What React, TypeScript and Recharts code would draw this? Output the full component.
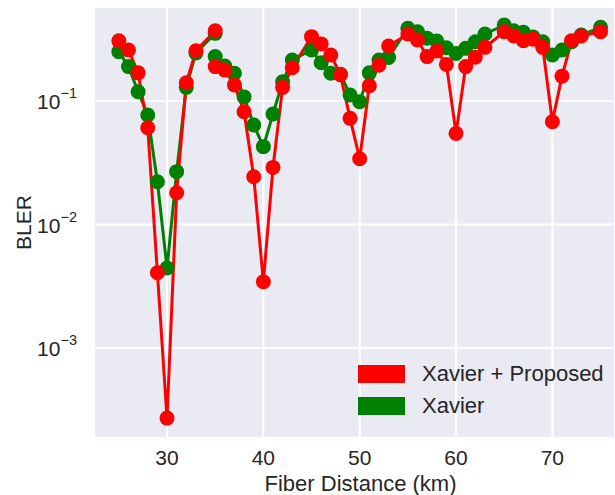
import { LineChart, Line, XAxis, YAxis, CartesianGrid, Legend } from "recharts"

// first sweep (25 .. 35 km)
const kmA = [25, 26, 27, 28, 29, 30, 31, 32, 33, 35]
const proposedA = [0.307, 0.259, 0.169, 0.0608, 0.00407, 0.000271, 0.0181, 0.1405, 0.255, 0.371]
const xavierA = [0.251, 0.19, 0.119, 0.077, 0.0222, 0.00445, 0.0268, 0.129, 0.245, 0.353]

// second sweep (35 .. 75 km)
const kmB = [
  35, 36, 37, 38, 39, 40, 41, 42, 43, 45, 46, 47, 48, 49, 50, 51, 52, 53, 55, 56, 57, 58, 59, 60,
  61, 62, 63, 65, 66, 67, 68, 69, 70, 71, 72, 73, 75,
]
const proposedB = [
  0.19, 0.178, 0.135, 0.0819, 0.0244, 0.00344, 0.029, 0.129, 0.186, 0.332, 0.29, 0.236, 0.163,
  0.0724, 0.0341, 0.133, 0.195, 0.279, 0.349, 0.312, 0.229, 0.254, 0.198, 0.0547, 0.19, 0.226,
  0.272, 0.364, 0.336, 0.308, 0.316, 0.272, 0.068, 0.159, 0.308, 0.336, 0.364,
]
const xavierB = [
  0.229, 0.192, 0.168, 0.108, 0.064, 0.0427, 0.0785, 0.143, 0.215, 0.259, 0.204, 0.168, 0.165,
  0.112, 0.0987, 0.169, 0.215, 0.225, 0.388, 0.364, 0.322, 0.306, 0.27, 0.243, 0.267, 0.302,
  0.349, 0.412, 0.371, 0.36, 0.33, 0.302, 0.236, 0.259, 0.302, 0.342, 0.395,
]

const xTicks = [30, 40, 50, 60, 70]
const yTicks = [0.001, 0.01, 0.1]
const legendItems = [
  { label: "Xavier + Proposed", color: "#ff0000" },
  { label: "Xavier", color: "#008000" },
]

const FONT = "'Liberation Sans', Arial, sans-serif"
const TEXT = "#262626"

const toRows = (km: number[], vals: number[]) => km.map((k, i) => ({ km: k, v: vals[i] }))

const YTick = (props: any) => {
  const { x, y, payload } = props
  const exp = Math.round(Math.log10(payload.value))
  return (
    <text x={x - 9} y={y + 8} textAnchor="end" fill={TEXT} fontSize={21} fontFamily={FONT}>
      10
      <tspan dy={-11} fontSize={14.5}>
        {"\u2212" + Math.abs(exp)}
      </tspan>
    </text>
  )
}

const XTick = (props: any) => {
  const { x, y, payload } = props
  return (
    <text x={x} y={y + 19} textAnchor="middle" fill={TEXT} fontSize={21} fontFamily={FONT}>
      {payload.value}
    </text>
  )
}

const LegendBox = () => (
  <div style={{ fontFamily: FONT, fontSize: 22, color: TEXT }}>
    {legendItems.map((it) => (
      <div key={it.label} style={{ display: "flex", alignItems: "center", height: 32 }}>
        <span
          style={{ display: "inline-block", width: 47, height: 18, background: it.color, marginRight: 17 }}
        />
        {it.label}
      </div>
    ))}
  </div>
)

export default function App() {
  const lines = [
    { data: toRows(kmA, xavierA), color: "#008000" },
    { data: toRows(kmB, xavierB), color: "#008000" },
    { data: toRows(kmA, proposedA), color: "#ff0000" },
    { data: toRows(kmB, proposedB), color: "#ff0000" },
  ]

  return (
    <div style={{ position: "absolute", left: 0, top: 0 }}>
      <LineChart width={615} height={495} margin={{ top: 7, right: 0, bottom: 0, left: 0 }}>
        <CartesianGrid fill="#eaeaf2" stroke="#ffffff" strokeWidth={2} />
        <XAxis
          type="number"
          dataKey="km"
          domain={[22.42, 76.5]}
          ticks={xTicks}
          allowDataOverflow
          axisLine={false}
          tickLine={false}
          height={57}
          tick={<XTick />}
          label={{
            value: "Fiber Distance (km)",
            position: "insideBottom",
            offset: 4,
            dx: 6,
            fill: TEXT,
            fontSize: 22,
            fontFamily: FONT,
          }}
        />
        <YAxis
          type="number"
          scale="log"
          domain={[1.87e-4, 0.577]}
          ticks={yTicks}
          allowDataOverflow
          axisLine={false}
          tickLine={false}
          width={94}
          tick={<YTick />}
          label={{
            value: "BLER",
            angle: -90,
            position: "insideLeft",
            offset: 24,
            fill: TEXT,
            fontSize: 21,
            fontFamily: FONT,
            style: { textAnchor: "middle" },
          }}
        />
        {lines.map((l, i) => (
          <Line
            key={i}
            data={l.data}
            dataKey="v"
            stroke={l.color}
            strokeWidth={3}
            dot={{ r: 7.5, fill: l.color, stroke: "none" }}
            activeDot={false}
            isAnimationActive={false}
          />
        ))}
        <Legend
          layout="horizontal"
          align="center"
          verticalAlign="middle"
          content={<LegendBox />}
          wrapperStyle={{ position: "absolute", left: 358, top: 358, width: 260, height: 64 }}
        />
      </LineChart>
    </div>
  )
}
